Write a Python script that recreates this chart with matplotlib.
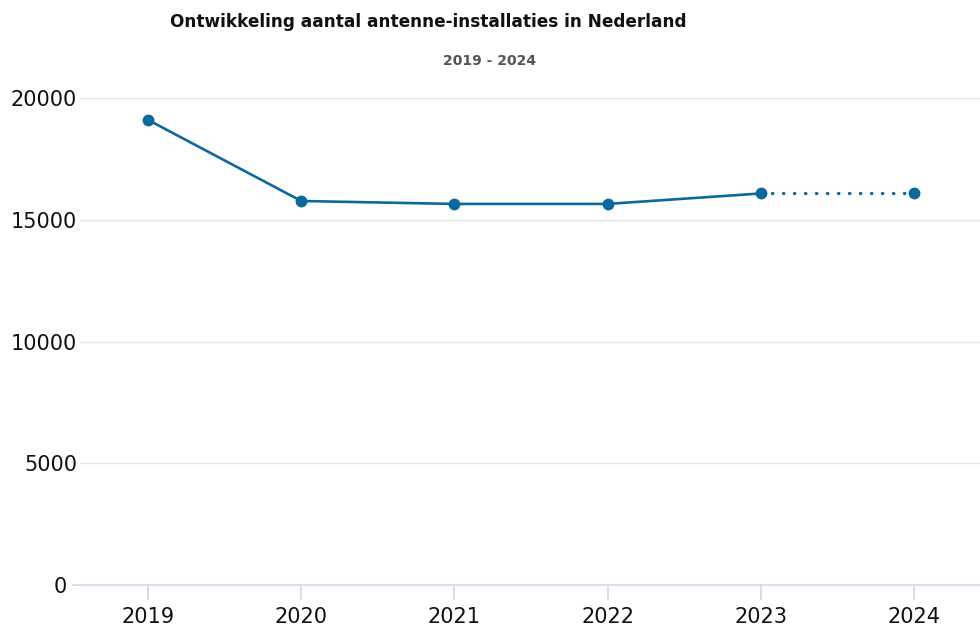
import matplotlib
matplotlib.use("Agg")
import matplotlib.pyplot as plt
from matplotlib.transforms import ScaledTranslation

years = [2019, 2020, 2021, 2022, 2023, 2024]
installaties = [19100, 15770, 15650, 15650, 16080, 16080]
y_ticks = [0, 5000, 10000, 15000, 20000]

LINE = "#0b699e"
GRID = "#e6e6e6"
AXIS = "#d3dcec"

plt.rcParams["font.family"] = ["DejaVu Sans"]

fig = plt.figure(figsize=(9.8, 6.26), dpi=100)
ax = fig.add_axes([80 / 980, 41 / 626, 900 / 980, 487 / 626])
ax.set_xlim(2018.556, 2024.43)
ax.set_ylim(0, 20000)

# solid for measured years, dotted for the last step
ax.plot(years[:5], installaties[:5], color=LINE, linewidth=1.9, zorder=3, clip_on=False)
ax.plot(years[4:], installaties[4:], color=LINE, linewidth=2.4,
        linestyle=(0, (0.1, 3.2)), dash_capstyle="round", zorder=3, clip_on=False)
ax.plot(years, installaties, "o", color=LINE, markersize=7.5, zorder=4, clip_on=False)

ax.set_yticks(y_ticks)
ax.set_xticks(years)
ax.tick_params(axis="y", length=0, pad=2, labelsize=15, labelcolor="#111111")
ax.tick_params(axis="x", length=11, width=1.3, color=AXIS, pad=5, labelsize=15,
               labelcolor="#111111")
ax.grid(axis="y", color=GRID, linewidth=1)
ax.set_axisbelow(True)
for side in ["top", "right", "left", "bottom"]:
    ax.spines[side].set_visible(False)
# x axis line runs a little past the grid on the left
ax.plot([-7 / 900, 1], [0, 0], transform=ax.transAxes, color=AXIS, linewidth=1.3,
        clip_on=False, zorder=2)

# the zero label sits left of the axis line
zero_label = ax.get_yticklabels()[0]
zero_label.set_transform(zero_label.get_transform() + ScaledTranslation(-0.1, 0, fig.dpi_scale_trans))

fig.text(428 / 980, 1 - 22 / 626, "Ontwikkeling aantal antenne-installaties in Nederland",
         ha="center", va="center", fontsize=12.2, fontweight="bold", color="#111111")
fig.text(490 / 980, 1 - 61 / 626, "2019 - 2024", ha="center", va="center",
         fontsize=10, fontweight="bold", color="#555555")

fig.savefig("out.png", dpi=100)
